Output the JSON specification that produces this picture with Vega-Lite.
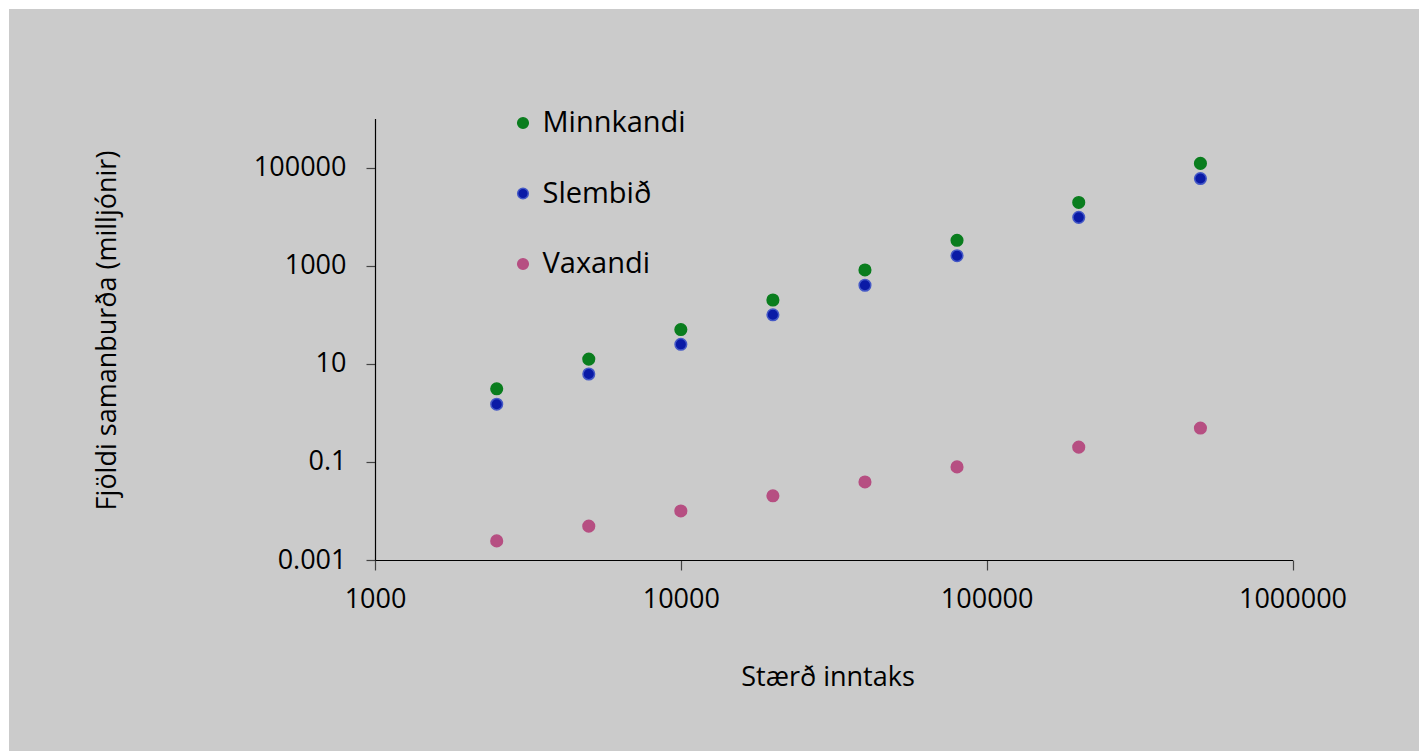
{
  "$schema": "https://vega.github.io/schema/vega-lite/v6.json",
  "width": 1410,
  "height": 742,
  "autosize": {"type": "none"},
  "padding": {"left": 9, "top": 9, "right": 0, "bottom": 0},
  "background": "#ffffff",
  "config": {
    "view": {"fill": "#cbcbcb", "stroke": null},
    "font": "Open Sans"
  },
  "data": {
    "values": [
      {"n": 2500, "v": 3.1, "s": "Minnkandi"},
      {"n": 5000, "v": 12.5, "s": "Minnkandi"},
      {"n": 10000, "v": 50, "s": "Minnkandi"},
      {"n": 20000, "v": 200, "s": "Minnkandi"},
      {"n": 40000, "v": 820, "s": "Minnkandi"},
      {"n": 80000, "v": 3300, "s": "Minnkandi"},
      {"n": 200000, "v": 19500, "s": "Minnkandi"},
      {"n": 500000, "v": 122000, "s": "Minnkandi"},
      {"n": 2500, "v": 1.5, "s": "Slembið"},
      {"n": 5000, "v": 6.2, "s": "Slembið"},
      {"n": 10000, "v": 25, "s": "Slembið"},
      {"n": 20000, "v": 100, "s": "Slembið"},
      {"n": 40000, "v": 400, "s": "Slembið"},
      {"n": 80000, "v": 1600, "s": "Slembið"},
      {"n": 200000, "v": 9700, "s": "Slembið"},
      {"n": 500000, "v": 60000, "s": "Slembið"},
      {"n": 2500, "v": 0.00245, "s": "Vaxandi"},
      {"n": 5000, "v": 0.0049, "s": "Vaxandi"},
      {"n": 10000, "v": 0.01, "s": "Vaxandi"},
      {"n": 20000, "v": 0.0204, "s": "Vaxandi"},
      {"n": 40000, "v": 0.039, "s": "Vaxandi"},
      {"n": 80000, "v": 0.079, "s": "Vaxandi"},
      {"n": 200000, "v": 0.2, "s": "Vaxandi"},
      {"n": 500000, "v": 0.49, "s": "Vaxandi"}
    ]
  },
  "mark": {"type": "point", "filled": true, "opacity": 1, "size": 135, "strokeWidth": 1.5},
  "encoding": {
    "x": {
      "field": "n", "type": "quantitative",
      "scale": {"type": "log", "domain": [1000, 1000000], "range": [366, 1283.5], "nice": false, "zero": false},
      "axis": {
        "orient": "bottom", "offset": -191,
        "values": [1000, 10000, 100000, 1000000], "format": "d",
        "grid": false, "domainColor": "#000000", "domainWidth": 1.2,
        "tickColor": "#444444", "tickSize": 10, "tickWidth": 1.2,
        "labelFont": "Open Sans", "labelFontSize": 27, "labelColor": "#000000",
        "labelBaseline": "middle", "labelPadding": 29, "labelFlush": false, "labelOverlap": false,
        "title": "Stærð inntaks", "titleFont": "Open Sans", "titleFontSize": 27, "titleFontWeight": "normal",
        "titleColor": "#000000", "titleX": 818.5, "titleY": 125, "titleBaseline": "alphabetic", "titleAlign": "center"
      }
    },
    "y": {
      "field": "v", "type": "quantitative",
      "scale": {"type": "log", "domain": [0.001, 1000000], "range": [551, 109.6], "nice": false, "zero": false},
      "axis": {
        "orient": "left", "offset": -366,
        "values": [0.001, 0.1, 10, 1000, 100000], "format": "~f",
        "grid": false, "domainColor": "#000000", "domainWidth": 1.2,
        "tickColor": "#444444", "tickSize": 9, "tickWidth": 1.2,
        "labelFont": "Open Sans", "labelFontSize": 27, "labelColor": "#000000",
        "labelPadding": 20, "labelFlush": false, "labelOverlap": false,
        "title": "Fjöldi samanburða (milljónir)", "titleFont": "Open Sans", "titleFontSize": 27, "titleFontWeight": "normal",
        "titleColor": "#000000", "titleX": -260, "titleY": 321, "titleAngle": -90, "titleBaseline": "alphabetic", "titleAlign": "center"
      }
    },
    "color": {
      "field": "s", "type": "nominal",
      "scale": {"domain": ["Minnkandi", "Slembið", "Vaxandi"], "range": ["#0a7d1e", "#0a1aa6", "#b64f82"]},
      "legend": {
        "title": null, "orient": "none", "legendX": 499.5, "legendY": 99.5, "padding": 0,
        "symbolType": "circle", "symbolSize": 113, "symbolStrokeWidth": 1.5,
        "labelFont": "Open Sans", "labelFontSize": 29, "labelColor": "#000000",
        "labelOffset": 5, "rowPadding": 40.5, "labelLimit": 400
      }
    },
    "stroke": {
      "field": "s", "type": "nominal",
      "scale": {"domain": ["Minnkandi", "Slembið", "Vaxandi"], "range": ["#0a7d1e", "#4458c6", "#b64f82"]},
      "legend": {
        "title": null, "orient": "none", "legendX": 499.5, "legendY": 99.5, "padding": 0,
        "symbolType": "circle", "symbolSize": 113, "symbolStrokeWidth": 1.5,
        "labelFont": "Open Sans", "labelFontSize": 29, "labelColor": "#000000",
        "labelOffset": 5, "rowPadding": 40.5, "labelLimit": 400
      }
    }
  }
}
